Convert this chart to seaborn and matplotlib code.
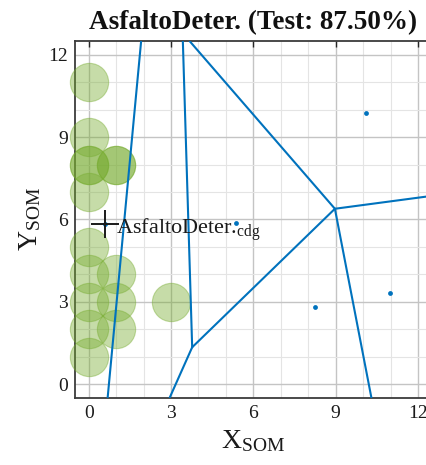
import matplotlib
matplotlib.use("Agg")
import matplotlib.pyplot as plt
from matplotlib.ticker import MultipleLocator
import seaborn as sns
import pandas as pd

# SOM node hits of the class (grid coordinates)
som_x = [0, 0, 0, 0, 1, 1, 0, 0, 0, 1, 0, 1, 3, 0, 1, 0]
som_y = [11, 9, 8, 8, 8, 8, 7, 5, 4, 4, 3, 3, 3, 2, 2, 1]

# class centroids used as Voronoi sites
site_x = [0.61, 5.38, 10.09, 8.26, 10.97]
site_y = [5.82, 5.87, 9.89, 2.80, 3.31]

# Voronoi edges (edge id, x, y)
edge_id = [1, 1, 2, 2, 3, 3, 4, 4, 5, 5, 6, 6, 7, 7]
edge_x = [1.91, 0.69, 3.43, 3.77, 3.77, 2.95, 3.77, 8.97, 3.68, 8.97, 8.97, 12.5, 8.97, 10.3]
edge_y = [12.5, -0.5, 12.5, 1.34, 1.34, -0.5, 1.34, 6.39, 12.5, 6.39, 6.39, 6.86, 6.39, -0.5]

cdg_x = [0.61]
cdg_y = [5.82]
cdg_name = "AsfaltoDeter."
test_acc = 87.50

x_ticks = [0, 3, 6, 9, 12]
y_ticks = [0, 3, 6, 9, 12]

sns.set_style("white")
plt.rcParams["font.family"] = ["Liberation Serif", "DejaVu Serif"]
plt.rcParams["mathtext.fontset"] = "custom"
plt.rcParams["mathtext.rm"] = "Liberation Serif"

green = (0.466, 0.674, 0.188)
blue = (0.0, 0.447, 0.741)

fig = plt.figure(figsize=(4.27, 4.65), dpi=100)
ax = fig.add_axes([0.1756, 0.1447, 0.8356, 0.7667])

hits = pd.DataFrame({"x": som_x, "y": som_y})
sites = pd.DataFrame({"x": site_x, "y": site_y})
edges = pd.DataFrame({"id": edge_id, "x": edge_x, "y": edge_y})

sns.scatterplot(data=hits, x="x", y="y", ax=ax, s=760, color=green, alpha=0.42,
                edgecolor=green, linewidth=0.8, zorder=3, legend=False, clip_on=False)
sns.lineplot(data=edges, x="x", y="y", units="id", estimator=None, sort=False,
             ax=ax, color=blue, linewidth=1.5, zorder=4, legend=False)
sns.scatterplot(data=sites, x="x", y="y", ax=ax, s=12, color=blue,
                edgecolor=blue, linewidth=0, zorder=5, legend=False)
ax.plot(cdg_x, cdg_y, marker="+", markersize=20, markeredgewidth=1.4,
        color="#1a1a1a", linestyle="none", zorder=6)
ax.text(cdg_x[0] + 0.38, cdg_y[0] - 0.38, cdg_name + r"$_{\mathregular{cdg}}$",
        fontsize=16, color="#1a1a1a", va="baseline", ha="left", zorder=7)

ax.set_xlim(-0.5, 12.5)
ax.set_ylim(-0.5, 12.5)
ax.set_xticks(x_ticks)
ax.set_yticks(y_ticks)
ax.xaxis.set_minor_locator(MultipleLocator(1))
ax.yaxis.set_minor_locator(MultipleLocator(1))
ax.grid(True, which="major", color="#c4c4c4", linewidth=1.0, zorder=0)
ax.grid(True, which="minor", color="#e4e4e4", linewidth=0.8, zorder=0)
ax.set_axisbelow(True)

ax.tick_params(which="major", direction="in", length=4, width=1.0, color="#262626",
               top=True, right=True, labelsize=14, labelcolor="#1a1a1a", pad=5)
ax.tick_params(which="minor", length=0)
for sp in ax.spines.values():
    sp.set_color("#3c3c3c")
    sp.set_linewidth(1.3)

ax.set_xlabel(r"$\mathregular{X_{SOM}}$", fontsize=20, color="#1a1a1a", labelpad=5)
ax.set_ylabel(r"$\mathregular{Y_{SOM}}$", fontsize=20, color="#1a1a1a", labelpad=4)
ax.set_title(f"{cdg_name} (Test: {test_acc:.2f}%)", fontsize=19.5, fontweight="bold",
             color="#111111", pad=9)

fig.savefig("out.png", dpi=100)
